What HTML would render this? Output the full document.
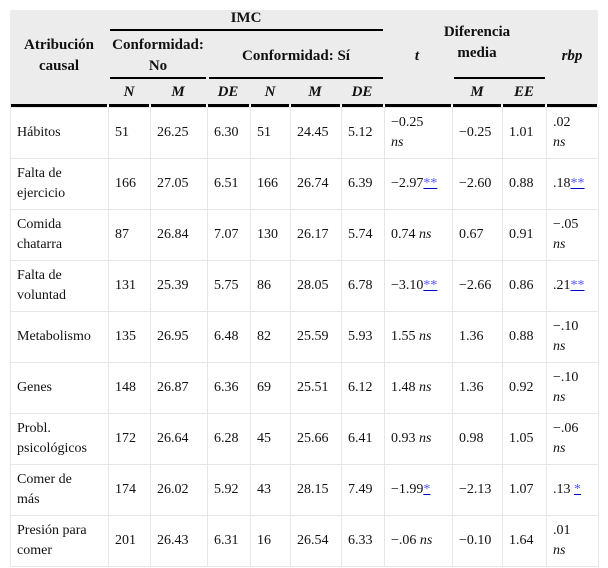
<!DOCTYPE html>
<html><head><meta charset="utf-8"><style>
body{margin:0;width:608px;height:568px;background:#fff;overflow:hidden;font-family:"Liberation Serif",serif;font-size:14px;color:#111;position:relative}
.h{position:absolute;font-weight:bold;text-align:center;line-height:21px;transform:translateX(-50%);white-space:nowrap;font-size:15px}
.ln{position:absolute;background:#000}
table{position:absolute;left:10px;top:107px;border-collapse:collapse;table-layout:fixed}
td{border:1px solid #e6e6e6;height:51px;padding:0 6px;vertical-align:middle;line-height:20px;box-sizing:border-box}
td:first-child{padding-right:12px}
i{font-style:italic}
a{color:#55f;text-decoration:underline;text-decoration-color:#00c}
</style></head><body>
<div style="position:absolute;left:10px;top:10px;width:588px;height:95px;background:#ececec"></div>
<div class="h" style="left:246px;top:8px">IMC</div>
<div class="h" style="left:59px;top:35px">Atribución<br>causal</div>
<div class="h" style="left:158px;top:35px">Conformidad:<br>No</div>
<div class="h" style="left:296px;top:46px">Conformidad: Sí</div>
<div class="h" style="left:417px;top:46px"><i>t</i></div>
<div class="h" style="left:477px;top:22px">Diferencia<br>media</div>
<div class="h" style="left:572px;top:46px"><i>rbp</i></div>
<div class="h" style="left:129px;top:82px"><i>N</i></div>
<div class="h" style="left:178px;top:82px"><i>M</i></div>
<div class="h" style="left:228px;top:82px"><i>DE</i></div>
<div class="h" style="left:270px;top:82px"><i>N</i></div>
<div class="h" style="left:315px;top:82px"><i>M</i></div>
<div class="h" style="left:362px;top:82px"><i>DE</i></div>
<div class="h" style="left:477px;top:82px"><i>M</i></div>
<div class="h" style="left:524px;top:82px"><i>EE</i></div>
<div class="ln" style="left:110px;top:29px;width:273px;height:2px"></div>
<div class="ln" style="left:110px;top:77px;width:96px;height:2px"></div>
<div class="ln" style="left:209px;top:77px;width:174px;height:2px"></div>
<div class="ln" style="left:454px;top:77px;width:91px;height:2px"></div>
<div id="hb"></div>
<table>
<colgroup><col style="width:98px"><col style="width:42px"><col style="width:57px"><col style="width:43px"><col style="width:40px"><col style="width:51px"><col style="width:43px"><col style="width:68px"><col style="width:50px"><col style="width:44px"><col style="width:52px"></colgroup>
<tr><td>Hábitos</td><td>51</td><td>26.25</td><td>6.30</td><td>51</td><td>24.45</td><td>5.12</td><td>−0.25<br><i>ns</i></td><td>−0.25</td><td>1.01</td><td>.02<br><i>ns</i></td></tr>
<tr><td>Falta de ejercicio</td><td>166</td><td>27.05</td><td>6.51</td><td>166</td><td>26.74</td><td>6.39</td><td>−2.97<a>**</a></td><td>−2.60</td><td>0.88</td><td>.18<a>**</a></td></tr>
<tr><td>Comida chatarra</td><td>87</td><td>26.84</td><td>7.07</td><td>130</td><td>26.17</td><td>5.74</td><td>0.74 <i>ns</i></td><td>0.67</td><td>0.91</td><td>−.05<br><i>ns</i></td></tr>
<tr><td>Falta de voluntad</td><td>131</td><td>25.39</td><td>5.75</td><td>86</td><td>28.05</td><td>6.78</td><td>−3.10<a>**</a></td><td>−2.66</td><td>0.86</td><td>.21<a>**</a></td></tr>
<tr><td>Metabolismo</td><td>135</td><td>26.95</td><td>6.48</td><td>82</td><td>25.59</td><td>5.93</td><td>1.55 <i>ns</i></td><td>1.36</td><td>0.88</td><td>−.10<br><i>ns</i></td></tr>
<tr><td>Genes</td><td>148</td><td>26.87</td><td>6.36</td><td>69</td><td>25.51</td><td>6.12</td><td>1.48 <i>ns</i></td><td>1.36</td><td>0.92</td><td>−.10<br><i>ns</i></td></tr>
<tr><td>Probl. psicológicos</td><td>172</td><td>26.64</td><td>6.28</td><td>45</td><td>25.66</td><td>6.41</td><td>0.93 <i>ns</i></td><td>0.98</td><td>1.05</td><td>−.06<br><i>ns</i></td></tr>
<tr><td>Comer de<br>más</td><td>174</td><td>26.02</td><td>5.92</td><td>43</td><td>28.15</td><td>7.49</td><td>−1.99<a>*</a></td><td>−2.13</td><td>1.07</td><td>.13 <a>*</a></td></tr>
<tr><td>Presión para comer</td><td>201</td><td>26.43</td><td>6.31</td><td>16</td><td>26.54</td><td>6.33</td><td>−.06 <i>ns</i></td><td>−0.10</td><td>1.64</td><td>.01<br><i>ns</i></td></tr>
</table>
<script>
const edges=[10,108,150,207,250,290,341,384,452,502,546,598];
const hb=document.getElementById('hb');
for(let i=0;i<edges.length-1;i++){const d=document.createElement('div');


d.className='ln';d.style.left=(edges[i]+1)+'px';d.style.top='104px';d.style.width=(edges[i+1]-edges[i]-2)+'px';d.style.height='3px';hb.appendChild(d);}
</script>
</body></html>
